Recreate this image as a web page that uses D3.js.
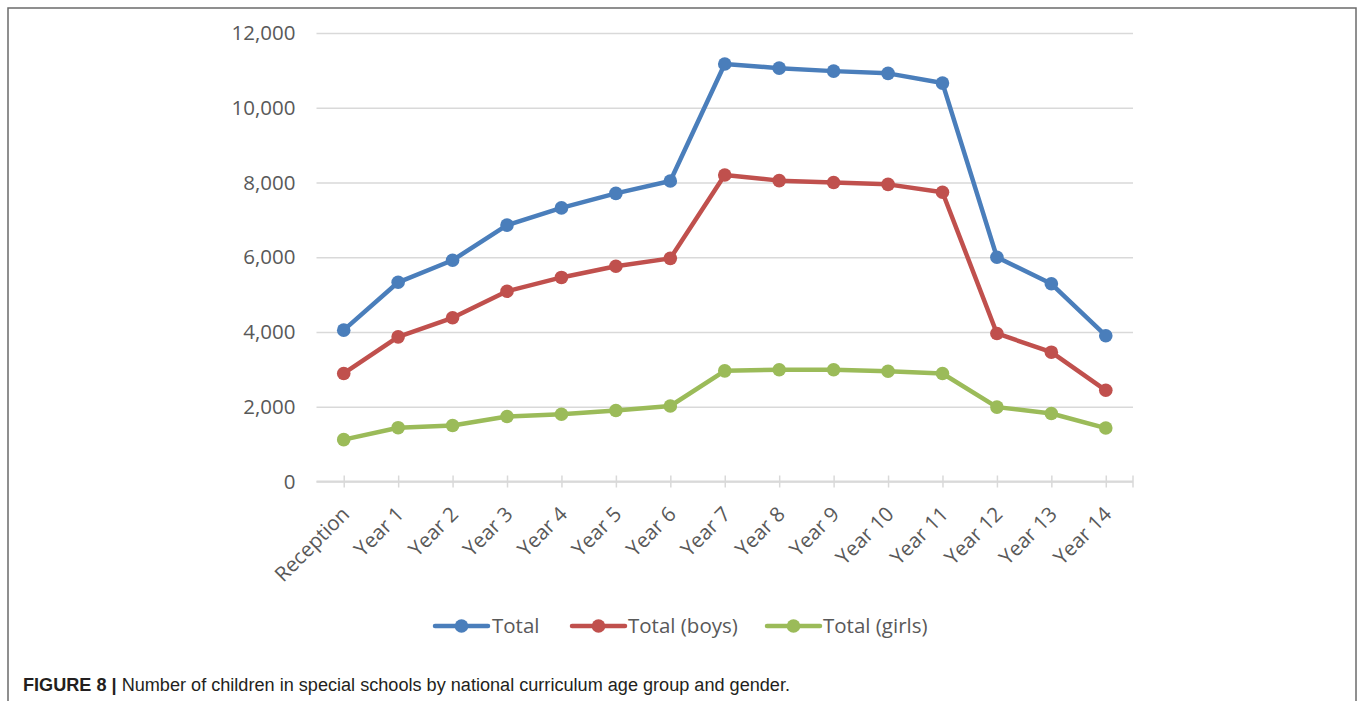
<!DOCTYPE html>
<html>
<head>
<meta charset="utf-8">
<script src="https://cdn.jsdelivr.net/npm/d3@7"></script>
<style>
  html, body { margin: 0; padding: 0; background: #ffffff; }
  svg { display: block; }
</style>
</head>
<body>
<svg id="chart" width="1358" height="701"></svg>
<script>
// Age groups along the x axis
const categories = ["Reception", "Year 1", "Year 2", "Year 3", "Year 4", "Year 5", "Year 6",
  "Year 7", "Year 8", "Year 9", "Year 10", "Year 11", "Year 12", "Year 13", "Year 14"];

// Number of children per age group
const totalAll = [4050, 5330, 5920, 6860, 7320, 7710, 8040, 11170, 11060, 10980, 10920, 10660, 6000, 5290, 3900];
const totalBoys = [2890, 3870, 4380, 5090, 5460, 5760, 5970, 8200, 8050, 8000, 7950, 7740, 3960, 3460, 2440];
const totalGirls = [1120, 1440, 1500, 1740, 1800, 1900, 2020, 2960, 2990, 2990, 2950, 2890, 1990, 1820, 1430];

const yTicks = [0, 2000, 4000, 6000, 8000, 10000, 12000];

const seriesNames = ["Total", "Total (boys)", "Total (girls)"];
const seriesColors = ["#4a7ebb", "#c0504d", "#9bbb59"];

const series = [
  { name: seriesNames[0], color: seriesColors[0], values: totalAll },
  { name: seriesNames[1], color: seriesColors[1], values: totalBoys },
  { name: seriesNames[2], color: seriesColors[2], values: totalGirls }
];

const svg = d3.select("#chart");
const labelFont = "'Open Sans', 'DejaVu Sans', sans-serif";
const textGrey = "#595959";
const gridGrey = "#d9d9d9";

// Outer frame
svg.append("rect")
  .attr("x", 8).attr("y", 8)
  .attr("width", 1348).attr("height", 730)
  .attr("fill", "none")
  .attr("stroke", "#6b6b6b")
  .attr("stroke-width", 1.5);

const plot = { left: 316.5, right: 1133, top: 33, bottom: 481.5 };

const x = d3.scalePoint()
  .domain(categories)
  .range([plot.left, plot.right])
  .padding(0.5);

const y = d3.scaleLinear()
  .domain([0, 12000])
  .range([plot.bottom, plot.top]);

// Horizontal gridlines and y labels
const yAxis = d3.axisLeft(y)
  .tickValues(yTicks)
  .tickSize(-(plot.right - plot.left))
  .tickPadding(21)
  .tickFormat(d3.format(","));

const gy = svg.append("g")
  .attr("transform", `translate(${plot.left},0)`)
  .call(yAxis);
gy.select(".domain").remove();
gy.selectAll(".tick line")
  .attr("stroke", gridGrey)
  .attr("stroke-width", 1.5);
gy.selectAll(".tick text")
  .attr("fill", textGrey)
  .style("font-family", labelFont)
  .style("font-size", "20.5px");

// Category axis
const xAxis = d3.axisBottom(x)
  .tickSize(6)
  .tickSizeOuter(0)
  .tickFormat("");

const gx = svg.append("g")
  .attr("transform", `translate(0,${plot.bottom})`)
  .call(xAxis);
gx.select(".domain").attr("stroke", gridGrey).attr("stroke-width", 1.8)
  .attr("d", `M${plot.left},0H${plot.right}`);
gx.selectAll(".tick line")
  .attr("stroke", gridGrey)
  .attr("stroke-width", 1.5)
  .attr("y1", -6).attr("y2", 6);
// closing tick at the right end of the axis
gx.append("line")
  .attr("x1", x.range()[1]).attr("x2", x.range()[1])
  .attr("y1", -6).attr("y2", 6)
  .attr("stroke", gridGrey).attr("stroke-width", 1.5);

// Rotated category labels
svg.append("g")
  .selectAll("text")
  .data(categories)
  .join("text")
  .attr("transform", d => `translate(${x(d) + 7},${plot.bottom + 34}) rotate(-45)`)
  .attr("text-anchor", "end")
  .attr("fill", textGrey)
  .style("font-family", labelFont)
  .style("font-size", "20.5px")
  .text(d => d);

// Lines and markers
const line = d3.line()
  .x((d, i) => x(categories[i]))
  .y(d => y(d));

const sg = svg.append("g")
  .selectAll("g")
  .data(series)
  .join("g");

sg.append("path")
  .attr("d", d => line(d.values))
  .attr("fill", "none")
  .attr("stroke", d => d.color)
  .attr("stroke-width", 4.5)
  .attr("stroke-linejoin", "round");

sg.each(function (s) {
  d3.select(this).selectAll("circle")
    .data(s.values)
    .join("circle")
    .attr("cx", (d, i) => x(categories[i]))
    .attr("cy", d => y(d))
    .attr("r", 6.8)
    .attr("fill", s.color);
});

// Legend
const legendItems = [
  { x: 435, textX: 492 },
  { x: 572, textX: 628 },
  { x: 767, textX: 823 }
];
const legendY = 626;
const lg = svg.append("g")
  .selectAll("g")
  .data(series)
  .join("g");
lg.append("line")
  .attr("x1", (d, i) => legendItems[i].x)
  .attr("x2", (d, i) => legendItems[i].x + 53)
  .attr("y1", legendY).attr("y2", legendY)
  .attr("stroke", d => d.color)
  .attr("stroke-width", 4.5)
  .attr("stroke-linecap", "round");
lg.append("circle")
  .attr("cx", (d, i) => legendItems[i].x + 26.5)
  .attr("cy", legendY)
  .attr("r", 6.8)
  .attr("fill", d => d.color);
lg.append("text")
  .attr("x", (d, i) => legendItems[i].textX)
  .attr("y", legendY + 7)
  .attr("fill", textGrey)
  .style("font-family", labelFont)
  .style("font-size", "20.5px")
  .text(d => d.name);

// Caption
const caption = svg.append("text")
  .attr("x", 23)
  .attr("y", 691)
  .attr("fill", "#231f20")
  .attr("textLength", 767)
  .attr("lengthAdjust", "spacingAndGlyphs")
  .style("font-family", "'Liberation Sans Narrow', 'Liberation Sans', Arial, sans-serif")
  .style("font-size", "18px");
caption.append("tspan").style("font-weight", "bold").text("FIGURE 8 | ");
caption.append("tspan").text("Number of children in special schools by national curriculum age group and gender.");
</script>
</body>
</html>
